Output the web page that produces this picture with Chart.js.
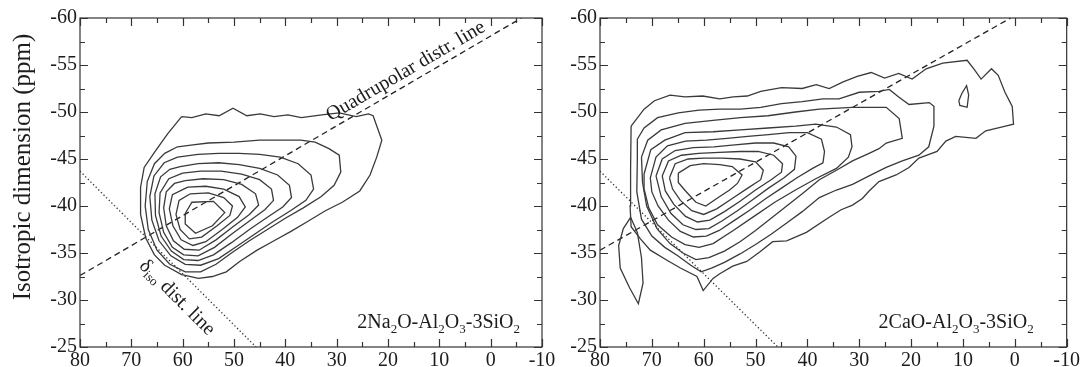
<!DOCTYPE html>
<html lang="en">
<head>
  <title>Isotropic dimension contour plots</title>
  <meta charset="UTF-8">
  <script src="https://cdn.jsdelivr.net/npm/chart.js"></script>
  <style>
    html, body { margin: 0; padding: 0; background: #fff; }
    #wrap { position: relative; width: 1082px; height: 367px; overflow: hidden; }
    #wrap canvas { position: absolute; top: 0; }
  </style>
</head>
<body>
<div id="wrap">
  <canvas id="naChart" width="560" height="367" style="left:0"></canvas>
  <canvas id="caChart" width="522" height="367" style="left:560px"></canvas>
</div>

<script>
// tick labels
const xTicks = [80, 70, 60, 50, 40, 30, 20, 10, 0, -10];
const yTicks = [-60, -55, -50, -45, -40, -35, -30, -25];

// reference lines [x, y]
const naQuadLine = [[80, -32.6], [-6, -60]];
const caQuadLine = [[80, -35.3], [0.8, -60]];
const isoLine = [[80, -43.7], [45.7, -25]];

// 2Na2O-Al2O3-3SiO2 contours, outer to inner
const naC1 = [[60.2,-49.5],[58.2,-49.4],[55.5,-49.8],[52.9,-49.6],[50.2,-50.4],[47.5,-49.6],[44.9,-49.8],[42.2,-49.5],[39.5,-49.7],[36.9,-49.4],[32.9,-49.7],[29.5,-49.9],[26.2,-49.5],[23.8,-49.8],[22.9,-49.6],[21.2,-47.0],[22.2,-45.2],[23.5,-43.3],[25.5,-41.6],[28.9,-40.4],[32.2,-39.5],[35.5,-38.4],[38.9,-37.3],[42.2,-36.3],[45.5,-35.3],[48.9,-34.1],[51.5,-33.0],[54.2,-32.5],[56.9,-32.3],[60.2,-32.7],[63.5,-33.7],[65.5,-34.8],[67.2,-36.6],[68.2,-39.1],[68.2,-42.0],[67.5,-44.1],[65.5,-45.7],[62.9,-47.7]];
const naC2 = [[61,-46.3],[58,-46.5],[55,-46.7],[50,-46.8],[45,-47.0],[40,-47.0],[37,-47.0],[34.2,-46.8],[31.5,-46.1],[29.5,-45.4],[29.2,-43.6],[30.5,-42.2],[33,-41.0],[36.5,-39.8],[40,-38.7],[43.5,-37.5],[47,-36.3],[50.5,-35.0],[53.5,-33.8],[56.5,-33.0],[59.5,-33.0],[62.5,-33.8],[65,-35.3],[66.7,-37.5],[67.3,-40],[66.9,-42.6],[65.5,-44.5],[63.5,-45.6]];
const naC3 = [[61,-45.2],[57,-45.5],[53,-45.6],[49,-45.6],[45,-45.5],[41,-45.2],[37.5,-44.5],[35,-43.3],[34.5,-41.8],[36,-40.6],[39,-39.5],[42.5,-38.3],[46,-37.0],[49.5,-35.7],[53,-34.4],[56.5,-33.7],[59.5,-33.8],[62.3,-34.7],[64.6,-36.3],[66,-38.5],[66.4,-41],[65.6,-43.2],[63.6,-44.6]];
const naC4 = [[60.5,-44.2],[57,-44.5],[53,-44.6],[49,-44.4],[45,-44.0],[41.5,-43.3],[39.2,-42.2],[38.8,-40.9],[40.5,-39.9],[43.5,-38.8],[47,-37.5],[50.5,-36.1],[54,-34.8],[57,-34.2],[59.8,-34.3],[62.2,-35.2],[64.2,-36.8],[65.3,-39],[65.4,-41.3],[64.3,-43.1],[62.5,-43.9]];
const naC5 = [[60,-43.5],[56.5,-43.7],[52.5,-43.7],[48.5,-43.4],[45,-42.8],[42.7,-41.8],[42.3,-40.6],[44,-39.6],[47,-38.4],[50.5,-37.0],[53.8,-35.6],[57,-34.7],[59.8,-34.8],[62,-35.6],[63.7,-37.2],[64.6,-39.3],[64.4,-41.4],[62.7,-42.9]];
const naC6 = [[59.5,-42.7],[56,-42.9],[52,-42.8],[48.5,-42.3],[45.8,-41.3],[45.2,-40.1],[47,-39.1],[50.2,-37.8],[53.5,-36.4],[56.8,-35.3],[59.7,-35.4],[61.8,-36.3],[63.2,-37.9],[63.7,-39.8],[63.2,-41.5],[61.6,-42.4]];
const naC7 = [[59,-42.0],[55.5,-42.1],[52,-41.8],[49,-41.0],[47.8,-39.9],[49.3,-38.8],[52.3,-37.5],[55.5,-36.2],[58,-35.8],[60.3,-36.4],[61.9,-37.9],[62.6,-39.7],[62,-41.2]];
const naC8 = [[58.5,-41.3],[55,-41.4],[52,-40.9],[50.3,-40.0],[50.8,-39.0],[53.3,-37.9],[56.3,-36.7],[58.7,-36.5],[60.5,-37.5],[61.3,-39.1],[60.7,-40.6]];
const naC9 = [[59.5,-39.2],[58.2,-40.4],[54,-40.5],[51.8,-39.3],[54.2,-37.9],[57.5,-37.1],[59.5,-38.1]];

// 2CaO-Al2O3-3SiO2 contours, outer to inner
const caC1 = [[74.0,-48.5],[71.5,-50.3],[69.5,-51.2],[66.5,-51.8],[63.6,-51.6],[60.2,-51.7],[56.9,-51.4],[54.3,-51.6],[51.6,-51.7],[49,-52.2],[45,-52.6],[41,-52.5],[38.3,-52.9],[35.8,-52.5],[33.1,-53.2],[30.4,-53.8],[27.7,-54.2],[25.1,-53.6],[22.4,-54.1],[19.8,-53.5],[17.1,-54.6],[13.9,-55.2],[9.2,-55.5],[7.8,-54.5],[6.5,-53.5],[4.5,-54.6],[3.2,-53.9],[1.9,-52.1],[0.5,-50.6],[0.25,-48.7],[1.8,-48.5],[5.6,-48.0],[7.5,-47.2],[11.4,-47.4],[13.3,-46.9],[15.0,-45.8],[18.5,-45.1],[20.4,-44.1],[22.9,-43.3],[26.2,-42.6],[28.1,-41.6],[29.4,-40.8],[31.3,-40.1],[33.5,-39.6],[35.8,-38.8],[40.2,-37.2],[44.0,-36.3],[46.7,-36.2],[49.2,-35.1],[51.7,-34.1],[54.4,-33.6],[56.9,-32.8],[58.2,-32.3],[60.1,-31.0],[61.3,-32.5],[64.5,-33.4],[67.0,-34.2],[70.3,-35.3],[72.2,-36.5],[74.0,-37.8],[74.2,-40.0],[74.1,-44.0]];
const caC2 = [[72.8,-47.1],[71.5,-48.3],[68.9,-49.4],[64.9,-49.9],[60.9,-50.2],[56.9,-50.3],[52.9,-50.3],[49.0,-50.5],[45.0,-50.9],[41.0,-51.1],[37.0,-51.4],[33.9,-51.4],[30.0,-52.1],[26.2,-52.2],[24.2,-52.4],[22.4,-51.6],[20.4,-50.8],[16.5,-51.0],[15.6,-50.6],[15.6,-48.5],[16.6,-46.3],[18.5,-45.4],[21.7,-44.8],[24.8,-44.1],[28.1,-43.2],[31.3,-42.3],[34.4,-41.7],[37.7,-40.9],[41,-39.4],[44,-38.2],[47,-37.0],[50,-35.9],[53,-34.9],[56,-34.0],[58.5,-33.4],[60.5,-33.0],[62.5,-33.7],[65,-34.7],[67.5,-35.6],[70,-36.8],[72,-38.6],[72.9,-41.5],[72.8,-45]];
const caC3 = [[72,-45.2],[70.8,-47.0],[68.2,-48.1],[63.6,-48.8],[58.2,-49.1],[52.9,-49.4],[47.6,-49.6],[42.3,-50.0],[37.7,-50.3],[31.3,-50.5],[24.8,-50.5],[22.3,-49.3],[21.7,-47.2],[24.8,-46.7],[26.2,-46.1],[28.1,-45.6],[31.3,-44.8],[34.4,-43.8],[37.7,-42.8],[41,-41.3],[44,-40.0],[47,-38.7],[50,-37.4],[53,-36.2],[56,-35.2],[59,-34.5],[61.5,-34.3],[64,-35.0],[66.5,-36.0],[69,-37.6],[71,-40.0],[71.8,-42.5]];
const caC4 = [[71.5,-43.4],[70.2,-46.0],[67.5,-47.0],[63.6,-47.8],[58.2,-47.9],[52.9,-48.1],[47.6,-48.3],[42.3,-48.5],[38.4,-48.7],[34.4,-48.4],[31.7,-47.6],[31.4,-46.3],[32.1,-45.2],[34.4,-44.0],[38.4,-42.9],[42.3,-41.7],[46.3,-40.4],[50.3,-38.9],[54.3,-37.4],[58.2,-36.0],[60.9,-35.6],[63.6,-35.9],[66.2,-36.7],[68.9,-38.0],[70.6,-39.8],[71.4,-41.6]];
const caC5 = [[70.3,-43.0],[69.2,-45.2],[67,-46.4],[63.5,-46.9],[59.5,-47.0],[55.5,-47.2],[51.5,-47.4],[47.5,-47.6],[43.5,-47.8],[40,-47.8],[37.3,-47.1],[36.7,-45.8],[37.0,-44.6],[39,-44.0],[42,-43.0],[45,-41.9],[48,-40.8],[51,-39.6],[54,-38.5],[57,-37.4],[59.5,-36.8],[62,-36.7],[64.5,-37.3],[66.8,-38.5],[68.8,-40.0],[70,-41.5]];
const caC6 = [[69.2,-43.2],[68,-45.0],[65.5,-45.9],[62,-46.2],[58,-46.3],[54,-46.5],[50,-46.7],[46.5,-46.7],[43.6,-46.3],[42.2,-45.3],[42.5,-43.9],[44.5,-43.0],[47.5,-41.9],[50.5,-40.7],[53.5,-39.5],[56.5,-38.4],[59,-37.6],[61.5,-37.5],[64,-38.0],[66.3,-39.2],[68.2,-41.0]];
const caC7 = [[68,-43.2],[66.8,-44.8],[64.3,-45.4],[61,-45.6],[57,-45.7],[53,-45.8],[49.5,-45.8],[46.5,-45.4],[44.8,-44.5],[45,-43.6],[47,-42.8],[50,-41.7],[53,-40.5],[56,-39.4],[58.8,-38.5],[61.2,-38.3],[63.5,-38.9],[65.8,-40.2],[67.4,-41.6]];
const caC8 = [[66.6,-43.0],[65.5,-44.5],[63,-45.0],[60,-45.1],[56.5,-45.1],[53,-45.0],[50,-44.7],[48.5,-43.8],[49,-42.8],[51.5,-41.9],[54.5,-40.8],[57.5,-39.7],[60,-39.1],[62.3,-39.5],[64.5,-40.6],[66,-41.8]];
const caC9 = [[64.9,-43.5],[62.6,-44.3],[60,-44.5],[56.9,-44.4],[54.5,-44.2],[52.6,-43.3],[53.5,-42.4],[55,-41.7],[57.2,-40.9],[59.6,-40.0],[61.5,-40.4],[63.5,-41.6],[64.9,-42.5]];
const caTongue = [[74.1,-38.8],[72.8,-37.2],[72.0,-34.5],[71.7,-31.8],[72.6,-29.6],[74.3,-31.3],[76.1,-33.4],[76.4,-35.8],[75.5,-37.6]];
const caIsland = [[10.8,-51.2],[10.2,-52.0],[9.3,-52.8],[8.9,-51.8],[9.2,-50.5],[10.6,-50.7]];

const naContours = [naC1, naC2, naC3, naC4, naC5, naC6, naC7, naC8, naC9];
const caContours = [caC1, caC2, caC3, caC4, caC5, caC6, caC7, caC8, caC9, caTongue, caIsland];

const serif = '"Liberation Serif", "Times New Roman", serif';
const ink = '#1c1c1c';

function toPoints(arr, close) {
  const pts = arr.map(p => ({ x: p[0], y: p[1] }));
  if (close) pts.push({ x: arr[0][0], y: arr[0][1] });
  return pts;
}

function buildDatasets(contours, quad) {
  const sets = contours.map(c => ({
    data: toPoints(c, true),
    showLine: true, pointRadius: 0, borderColor: '#3a3a3a', borderWidth: 1.3, tension: 0
  }));
  sets.push({ data: toPoints(quad), showLine: true, pointRadius: 0,
    borderColor: '#222', borderWidth: 1.3, borderDash: [6, 4] });
  sets.push({ data: toPoints(isoLine), showLine: true, pointRadius: 0,
    borderColor: '#333', borderWidth: 1.3, borderDash: [1.3, 2.4] });
  return sets;
}

// draw text with subscripts: parts = [[text, isSub], ...]
function drawParts(ctx, parts, x, y, size, alignRight) {
  const main = size + 'px ' + serif;
  const small = Math.round(size * 0.66) + 'px ' + serif;
  const widths = parts.map(p => { ctx.font = p[1] ? small : main; return ctx.measureText(p[0]).width; });
  let cx = alignRight ? x - widths.reduce((a, b) => a + b, 0) : x;
  parts.forEach((p, i) => {
    ctx.font = p[1] ? small : main;
    ctx.fillText(p[0], cx, y + (p[1] ? size * 0.27 : 0));
    cx += widths[i];
  });
}

// box with inward ticks on all four sides
const framePlugin = {
  id: 'frame',
  afterDraw(chart) {
    const { ctx, chartArea: a, scales: { x, y } } = chart;
    ctx.save();
    ctx.strokeStyle = '#333';
    ctx.lineWidth = 1.2;
    ctx.strokeRect(a.left, a.top, a.right - a.left, a.bottom - a.top);
    ctx.beginPath();
    for (let v = -10; v <= 80; v += 5) {
      const px = Math.round(x.getPixelForValue(v)) + 0.5;
      const len = v % 10 === 0 ? 8 : 5;
      ctx.moveTo(px, a.bottom); ctx.lineTo(px, a.bottom - len);
      ctx.moveTo(px, a.top); ctx.lineTo(px, a.top + len);
    }
    for (let v = -60; v <= -25; v += 2.5) {
      const py = Math.round(y.getPixelForValue(v)) + 0.5;
      const len = v % 5 === 0 ? 8 : 5;
      ctx.moveTo(a.left, py); ctx.lineTo(a.left + len, py);
      ctx.moveTo(a.right, py); ctx.lineTo(a.right - len, py);
    }
    ctx.stroke();
    ctx.restore();
  }
};

function labelPlugin(cfg) {
  return {
    id: 'labels',
    afterDraw(chart) {
      const { ctx, chartArea: a, scales: { x, y } } = chart;
      ctx.save();
      ctx.fillStyle = ink;
      ctx.textAlign = 'left';
      ctx.textBaseline = 'alphabetic';
      drawParts(ctx, cfg.name, a.right - cfg.nameRight, a.bottom - 19, 20, true);

      if (cfg.yTitle) {
        ctx.save();
        ctx.translate(23, 167);
        ctx.rotate(-Math.PI / 2);
        ctx.textAlign = 'center';
        ctx.textBaseline = 'middle';
        ctx.font = '25px ' + serif;
        ctx.fillText('Isotropic dimension (ppm)', 0, 0);
        ctx.restore();
      }

      if (cfg.lineLabels) {
        const px = p => [x.getPixelForValue(p[0]), y.getPixelForValue(p[1])];
        const along = (line, xv) => {
          const [p0, p1] = line;
          const t = (xv - p0[0]) / (p1[0] - p0[0]);
          return [xv, p0[1] + t * (p1[1] - p0[1])];
        };
        // quadrupolar distribution line label
        let q0 = px(cfg.quad[0]), q1 = px(cfg.quad[1]);
        let ang = Math.atan2(q1[1] - q0[1], q1[0] - q0[0]);
        let s = px(along(cfg.quad, 30.5));
        ctx.save();
        ctx.translate(s[0], s[1]);
        ctx.rotate(ang);
        ctx.font = '20px ' + serif;
        ctx.fillText('Quadrupolar distr. line', 0, -7);
        ctx.restore();
        // isotropic distribution line label
        q0 = px(isoLine[0]); q1 = px(isoLine[1]);
        ang = Math.atan2(q1[1] - q0[1], q1[0] - q0[0]);
        s = px(along(isoLine, 65));
        ctx.save();
        ctx.translate(s[0], s[1]);
        ctx.rotate(ang);
        ctx.textBaseline = 'middle';
        drawParts(ctx, [['\u03b4', 0], ['iso', 1], [' dist. line', 0]], 0, 21, 20, false);
        ctx.restore();
      }
      ctx.restore();
    }
  };
}

function makeChart(id, datasets, yWidth, padRight, labelCfg) {
  return new Chart(document.getElementById(id), {
    type: 'scatter',
    data: { datasets: datasets },
    options: {
      responsive: false,
      animation: false,
      devicePixelRatio: 1,
      layout: { padding: { left: 0, right: padRight, top: 18, bottom: 0 } },
      plugins: { legend: { display: false }, tooltip: { enabled: false } },
      scales: {
        x: {
          type: 'linear', min: -10, max: 80, reverse: true,
          afterBuildTicks: s => { s.ticks = xTicks.map(v => ({ value: v })); },
          afterFit: s => { s.height = 20; },
          grid: { display: false, drawTicks: false },
          border: { display: false },
          ticks: { font: { family: serif, size: 20 }, color: ink, padding: 2, maxRotation: 0, autoSkip: false }
        },
        y: {
          type: 'linear', min: -60, max: -25, reverse: true,
          afterBuildTicks: s => { s.ticks = yTicks.map(v => ({ value: v })); },
          afterFit: s => { s.width = yWidth; },
          grid: { display: false, drawTicks: false },
          border: { display: false },
          ticks: { font: { family: serif, size: 20 }, color: ink, padding: 3, autoSkip: false }
        }
      }
    },
    plugins: [framePlugin, labelPlugin(labelCfg)]
  });
}

makeChart('naChart', buildDatasets(naContours, naQuadLine), 80, 18, {
  name: [['2Na', 0], ['2', 1], ['O-Al', 0], ['2', 1], ['O', 0], ['3', 1], ['-3SiO', 0], ['2', 1]],
  nameRight: 22, yTitle: true, lineLabels: true, quad: naQuadLine
});

makeChart('caChart', buildDatasets(caContours, caQuadLine), 40, 15, {
  name: [['2CaO-Al', 0], ['2', 1], ['O', 0], ['3', 1], ['-3SiO', 0], ['2', 1]],
  nameRight: 33, yTitle: false, lineLabels: false
});
</script>
</body>
</html>
